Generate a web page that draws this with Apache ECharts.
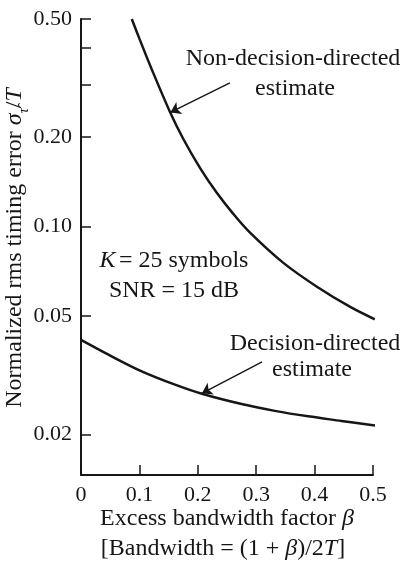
<!DOCTYPE html>
<html><head><meta charset="utf-8">
<script src="https://cdn.jsdelivr.net/npm/echarts@6/dist/echarts.min.js"></script>
<style>html,body{margin:0;padding:0;background:#fff}#c{width:410px;height:564px}</style>
</head><body><div id="c"></div>
<script>
// Non-decision-directed estimate
const betaNDD  = [0.087, 0.10, 0.12, 0.152, 0.175, 0.204, 0.2325, 0.260, 0.289, 0.346, 0.404, 0.461, 0.503];
const sigmaNDD = [0.500, 0.4295, 0.3428, 0.2443, 0.1977, 0.1574, 0.1300, 0.1109, 0.0957, 0.0757, 0.0628, 0.0537, 0.0488];
// Decision-directed estimate
const betaDD  = [0, 0.047, 0.104, 0.161, 0.207, 0.275, 0.332, 0.389, 0.446, 0.505];
const sigmaDD = [0.0416, 0.0371, 0.0326, 0.0294, 0.0274, 0.0253, 0.0240, 0.0230, 0.0222, 0.0214];
// Axis ticks
const xTicks = [0, 0.1, 0.2, 0.3, 0.4, 0.5];
const yLabelTicks = [0.50, 0.20, 0.10, 0.05, 0.02];
const yTickMarks = [0.5, 0.4, 0.3, 0.2, 0.1, 0.05, 0.02];
// Arrow annotations (data coords: from -> to)
const arrowNDD = [[0.255, 0.3046], [0.153, 0.2425]];
const arrowDD  = [[0.310, 0.0351], [0.207, 0.0275]];

const INK = '#161616';
const FONT = 'Liberation Serif';
const chart = echarts.init(document.getElementById('c'), null, {renderer: 'canvas'});

function arrowLine(a) {
  return {
    silent: true, symbol: ['none', 'arrow'], symbolSize: 10, animation: false,
    lineStyle: {type: 'solid', width: 1.4, color: INK}, itemStyle: {color: INK}, label: {show: false},
    emphasis: {disabled: true},
    data: [[{coord: a[0]}, {coord: a[1]}]]
  };
}
const txt = (x, y, text, size, extra) => ({
  type: 'text', x: x, y: y, silent: true,
  style: Object.assign({text: text, fill: INK, font: size + 'px "' + FONT + '"', align: 'center', verticalAlign: 'middle'}, extra || {})
});
const richBase = (size) => ({
  i: {fontFamily: FONT, fontStyle: 'italic', fontSize: size, fill: INK},
  n: {fontFamily: FONT, fontSize: size, fill: INK}
});

chart.setOption({
  animation: false,
  backgroundColor: '#fff',
  grid: {left: 81, top: 19, right: 37, bottom: 89, containLabel: false},
  xAxis: {
    type: 'value', min: xTicks[0], max: xTicks[xTicks.length - 1], interval: 0.1,
    axisLine: {show: true, onZero: false, lineStyle: {color: INK, width: 2}},
    axisTick: {show: true, inside: true, length: 10, lineStyle: {color: INK, width: 1.5}},
    axisLabel: {color: INK, fontFamily: FONT, fontSize: 22, margin: 9},
    splitLine: {show: false}
  },
  yAxis: {
    type: 'log', min: 0.0146, max: 0.5,
    axisLine: {show: true, lineStyle: {color: INK, width: 2}},
    axisTick: {show: true, inside: true, length: 10, customValues: yTickMarks, lineStyle: {color: INK, width: 1.5}},
    axisLabel: {color: INK, fontFamily: FONT, fontSize: 22, margin: 9, customValues: yLabelTicks,
      formatter: v => Number(v).toFixed(2)},
    splitLine: {show: false}, minorTick: {show: false}
  },
  series: [
    {type: 'line', name: 'Non-decision-directed', smooth: 0.35, symbol: 'none',
     lineStyle: {color: INK, width: 2.5},
     data: betaNDD.map((b, i) => [b, sigmaNDD[i]]), markLine: arrowLine(arrowNDD)},
    {type: 'line', name: 'Decision-directed', smooth: 0.35, symbol: 'none',
     lineStyle: {color: INK, width: 2.5},
     data: betaDD.map((b, i) => [b, sigmaDD[i]]), markLine: arrowLine(arrowDD)}
  ],
  graphic: [
    txt(293, 59, 'Non-decision-directed', 24),
    txt(295, 89, 'estimate', 24),
    {type: 'text', x: 174, y: 261, silent: true,
     style: {text: '{i|K} {n|= 25 symbols}', align: 'center', verticalAlign: 'middle', rich: richBase(24)}},
    txt(174, 291, 'SNR = 15 dB', 24),
    txt(315, 344, 'Decision-directed', 24),
    txt(312, 370, 'estimate', 24),
    {type: 'text', x: 227, y: 519, silent: true,
     style: {text: '{n|Excess bandwidth factor }{i|β}', align: 'center', verticalAlign: 'middle', rich: richBase(24)}},
    {type: 'text', x: 223, y: 549, silent: true,
     style: {text: '{n|[Bandwidth = (1 + }{i|β}{n|)/2}{i|T}{n|]}', align: 'center', verticalAlign: 'middle', rich: richBase(24)}},
    {type: 'text', x: 15, y: 248, rotation: Math.PI / 2, silent: true,
     style: {text: '{n|Normalized rms timing error }{i|σ}{s|τ̂}{n|/}{i|T}', align: 'center', verticalAlign: 'middle',
       rich: Object.assign(richBase(24), {s: {fontFamily: FONT, fontStyle: 'italic', fontSize: 14, fill: INK, verticalAlign: 'bottom', lineHeight: 32}})}}
  ]
});
</script>
</body></html>
